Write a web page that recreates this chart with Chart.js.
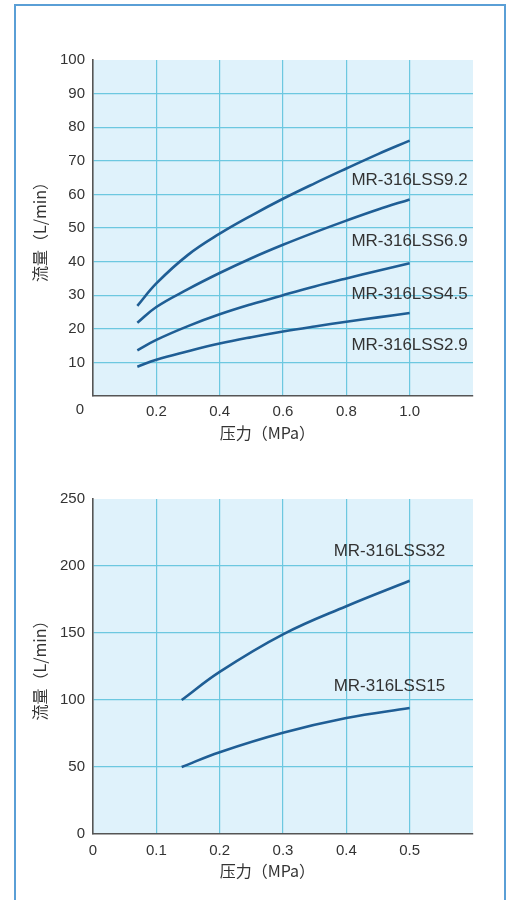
<!DOCTYPE html>
<html>
<head>
<meta charset="utf-8">
<script src="https://cdn.jsdelivr.net/npm/chart.js@4.4.1/dist/chart.umd.min.js"></script>
<style>
  html, body { margin: 0; padding: 0; background: #fff; }
  .frame { position: absolute; left: 14px; top: 4px; width: 492px; height: 1000px;
           border: 2px solid #5a9fd6; border-bottom: none; box-sizing: border-box; }
  .box { position: absolute; left: 0; width: 507px; }
  #top { top: 0; height: 450px; }
  #bottom { top: 440px; height: 450px; }
</style>
</head>
<body>
<div class="frame"></div>
<div class="box" id="top"><canvas id="chartTop"></canvas></div>
<div class="box" id="bottom"><canvas id="chartBottom"></canvas></div>
<script>
// top chart: pressure 0-1.0 MPa
const pressTop = [0.14, 0.2, 0.3, 0.4, 0.5, 0.6, 0.7, 0.8, 0.9, 1.0];
const flow92 = [26.8, 33.5, 42, 48.3, 53.7, 58.7, 63.3, 67.7, 72, 76];
const flow69 = [21.8, 26.5, 31.8, 36.6, 41, 45, 48.7, 52.2, 55.5, 58.5];
const flow45 = [13.6, 16.7, 20.8, 24.3, 27.3, 30, 32.6, 35, 37.3, 39.5];
const flow29 = [8.7, 10.8, 13.3, 15.6, 17.5, 19.2, 20.7, 22.1, 23.4, 24.7];
const namesTop = ['MR-316LSS9.2', 'MR-316LSS6.9', 'MR-316LSS4.5', 'MR-316LSS2.9'];
const labelYTop = [64.3, 46, 30.3, 15];

// bottom chart: pressure 0-0.5 MPa
const pressBottom = [0.14, 0.2, 0.3, 0.4, 0.5];
const flow32 = [100, 121, 149, 170, 189];
const flow15 = [50, 61, 75.5, 86.5, 94];
const namesBottom = ['MR-316LSS32', 'MR-316LSS15'];
const labelYBottom = [211, 110];

const LINE = '#1f5e95';
const GRID = '#6cc8e0';
const TEXT = '#333';
const SANS = "'Liberation Sans', Arial, sans-serif";
const CJK = "'Noto Sans CJK JP', 'Liberation Sans', sans-serif";

function series(xs, ys) {
  return xs.map((x, i) => ({ x: x, y: ys[i] }));
}

function lineSet(data) {
  return {
    data: data,
    borderColor: LINE,
    borderWidth: 2.6,
    pointRadius: 0,
    tension: 0.4,
    fill: false
  };
}

// background, curve names, axis titles
const decor = {
  id: 'decor',
  beforeDraw(chart) {
    const a = chart.chartArea;
    const ctx = chart.ctx;
    ctx.save();
    ctx.fillStyle = '#dff2fb';
    ctx.fillRect(a.left, a.top, a.right - a.left, a.bottom - a.top);
    ctx.restore();
  },
  afterDraw(chart, args, opts) {
    const a = chart.chartArea;
    const ctx = chart.ctx;
    const xs = chart.scales.x, ys = chart.scales.y;
    ctx.save();
    ctx.fillStyle = TEXT;
    ctx.font = '17px ' + SANS;
    ctx.textAlign = 'right';
    ctx.textBaseline = 'middle';
    opts.names.forEach((n, i) => {
      ctx.fillText(n, xs.getPixelForValue(opts.labelX), ys.getPixelForValue(opts.labelY[i]));
    });
    // axis titles
    ctx.font = '16px ' + CJK;
    ctx.textAlign = 'center';
    ctx.fillText('压力（MPa）', a.left + (a.right - a.left) * 0.459, a.bottom + 37);
    ctx.save();
    ctx.translate(40, (a.top + a.bottom) / 2);
    ctx.rotate(-Math.PI / 2);
    ctx.fillText('流量（L/min）', 0, 0);
    ctx.restore();
    if (opts.origin) {
      ctx.font = '15px ' + SANS;
      ctx.fillText('0', a.left - 13, a.bottom + 14);
    }
    ctx.restore();
  }
};

function makeChart(id, datasets, cfg) {
  return new Chart(document.getElementById(id), {
    type: 'line',
    data: { datasets: datasets },
    plugins: [decor],
    options: {
      responsive: true,
      maintainAspectRatio: false,
      animation: false,
      layout: { padding: { top: cfg.top, right: 34, left: 0, bottom: 0 } },
      plugins: {
        legend: { display: false },
        tooltip: { enabled: false },
        decor: { names: cfg.names, labelX: cfg.labelX, labelY: cfg.labelY, origin: cfg.origin }
      },
      scales: {
        x: {
          type: 'linear',
          min: 0, max: cfg.xMax,
          afterFit(s) { s.height = cfg.xHeight; },
          ticks: {
            stepSize: cfg.xStep,
            padding: cfg.xPad,
            color: TEXT,
            font: { family: SANS, size: 15 },
            callback(v) {
              if (v > cfg.xLast + 1e-9) return '';
              if (v === 0) return cfg.origin ? '' : '0';
              return v.toFixed(1);
            }
          },
          grid: {
            drawTicks: false,
            lineWidth: 1.2,
            color(c) {
              const v = c.tick.value;
              return (v === 0 || v > cfg.xMax - 1e-9) ? 'rgba(0,0,0,0)' : GRID;
            }
          },
          border: { display: true, color: '#555', width: 1.6 }
        },
        y: {
          type: 'linear',
          min: 0, max: cfg.yMax,
          afterFit(s) { s.width = 93; },
          ticks: {
            stepSize: cfg.yStep,
            padding: 8,
            color: TEXT,
            font: { family: SANS, size: 15 },
            callback(v) { return (v === 0 && cfg.origin) ? '' : String(v); }
          },
          grid: {
            drawTicks: false,
            lineWidth: 1.2,
            color(c) {
              const v = c.tick.value;
              return (v === 0 || v >= cfg.yMax) ? 'rgba(0,0,0,0)' : GRID;
            }
          },
          border: { display: true, color: '#555', width: 1.6 }
        }
      }
    }
  });
}

makeChart('chartTop', [
  lineSet(series(pressTop, flow92)),
  lineSet(series(pressTop, flow69)),
  lineSet(series(pressTop, flow45)),
  lineSet(series(pressTop, flow29))
], {
  top: 60, xHeight: 54, xMax: 1.2, xLast: 1.0, xStep: 0.2, xPad: 7,
  yMax: 100, yStep: 10, origin: true,
  names: namesTop, labelX: 1.183, labelY: labelYTop
});

makeChart('chartBottom', [
  lineSet(series(pressBottom, flow32)),
  lineSet(series(pressBottom, flow15))
], {
  top: 59, xHeight: 56, xMax: 0.6, xLast: 0.5, xStep: 0.1, xPad: 8,
  yMax: 250, yStep: 50, origin: false,
  names: namesBottom, labelX: 0.556, labelY: labelYBottom
});
</script>
</body>
</html>
